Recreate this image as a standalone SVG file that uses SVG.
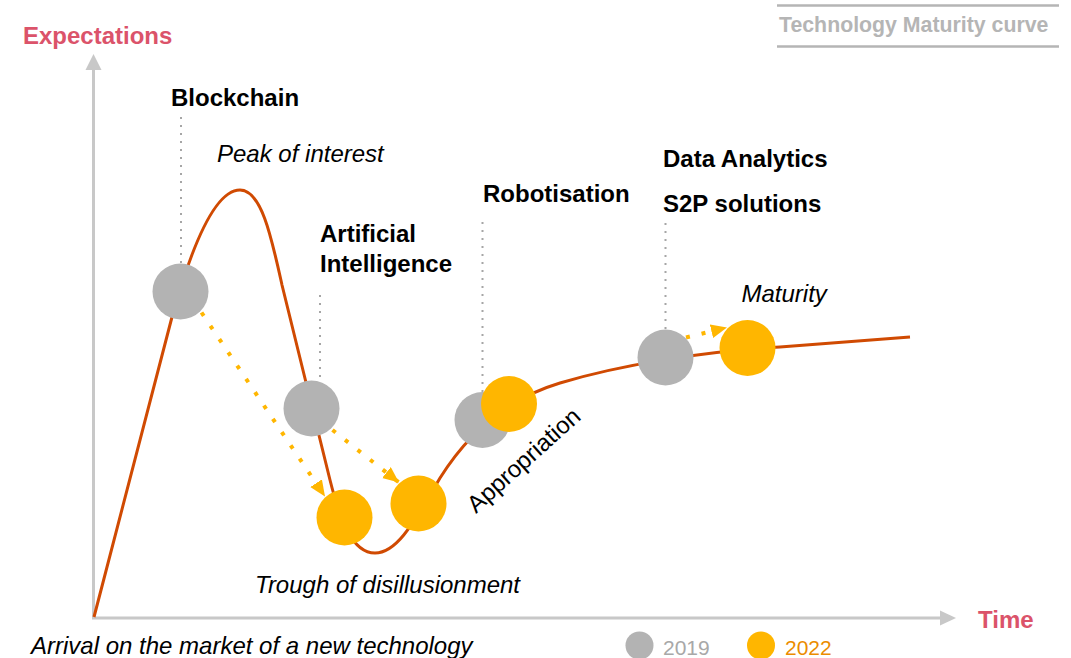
<svg xmlns="http://www.w3.org/2000/svg" width="1071" height="658" viewBox="0 0 1071 658">
<style>
text{font-family:"Liberation Sans",Arial,sans-serif}
.b{font-weight:bold;font-size:24px;fill:#000}
.it{font-style:italic;font-size:24px;fill:#000}
.pink{font-weight:bold;font-size:24px;fill:#db536a}
.axis{stroke:#c8c8c8;stroke-width:3;fill:none}
.lead{stroke:#a6a6a6;stroke-width:2;stroke-dasharray:2 6;fill:none}
.mv{stroke:#ffb600;stroke-width:4;stroke-dasharray:4 12;fill:none;marker-end:url(#ah)}
.g{fill:#b3b3b3}
.y{fill:#ffb600}
</style>
<defs>
<marker id="ah" markerUnits="userSpaceOnUse" markerWidth="17" markerHeight="15" refX="16" refY="7" orient="auto" viewBox="0 0 17 15">
<path d="M0,0 L16,7 L0,14 z" fill="#ffb600"/>
</marker>
</defs>
<rect width="1071" height="658" fill="#fff"/>
<g id="title">
<line x1="777" y1="5.5" x2="1059" y2="5.5" stroke="#b5b5b5" stroke-width="2.5"/>
<line x1="777" y1="46.5" x2="1059" y2="46.5" stroke="#b5b5b5" stroke-width="2.5"/>
<text x="779" y="32" style="font-weight:bold;font-size:21.3px;fill:#b5b5b5">Technology Maturity curve</text>
</g>
<g id="axes">
<line class="axis" x1="93.5" y1="618" x2="93.5" y2="68"/>
<path d="M85.5,70 L93.5,54 L101.5,70 z" fill="#c8c8c8"/>
<line class="axis" x1="92" y1="618" x2="942" y2="618"/>
<path d="M940,610.5 L956,618 L940,625.5 z" fill="#c8c8c8"/>
<text class="pink" x="23" y="44">Expectations</text>
<text class="pink" x="978" y="628">Time</text>
</g>
<g id="curve">
<path d="M94,617 L172,317 C192,245 215,190 240,190 C262,190 272,240 282,285 L330,480 C340,520 352,553 375,553 C395,553 410,530 440,478 C470,430 510,398 560,383 C620,365 700,352 780,347 L910,337" fill="none" stroke="#d04a02" stroke-width="3"/>
</g>
<g id="connectors">
<line class="lead" x1="181" y1="117" x2="181" y2="264"/>
<line class="lead" x1="320" y1="295" x2="320" y2="384"/>
<line class="lead" x1="482.5" y1="222" x2="482.5" y2="392"/>
<line class="lead" x1="665.5" y1="223" x2="665.5" y2="330"/>
<line class="mv" x1="201.5" y1="312.5" x2="325" y2="496.5"/>
<line class="mv" x1="332.5" y1="430" x2="399" y2="482.5"/>
<line class="mv" x1="686" y1="337.5" x2="727" y2="327.5"/>
</g>
<g id="blockchain">
<text class="b" x="171" y="106">Blockchain</text>
<circle class="g" cx="180.5" cy="291.5" r="28"/>
</g>
<g id="ai">
<text class="b" x="320" y="242">Artificial</text>
<text class="b" x="320" y="272">Intelligence</text>
<circle class="g" cx="311.5" cy="408.5" r="28"/>
</g>
<g id="robotisation">
<text class="b" x="483" y="201.5">Robotisation</text>
<circle class="g" cx="482.5" cy="420" r="28"/>
</g>
<g id="data">
<text class="b" x="663" y="167">Data Analytics</text>
<text class="b" x="663" y="211.5">S2P solutions</text>
<circle class="g" cx="665.5" cy="357.5" r="28"/>
</g>
<g id="y2022">
<circle class="y" cx="344.5" cy="517.5" r="28"/>
<circle class="y" cx="418.5" cy="503.5" r="28"/>
<circle class="y" cx="509" cy="404" r="28"/>
<circle class="y" cx="747.5" cy="348" r="28"/>
</g>
<g id="phases">
<text class="it" x="217" y="162">Peak of interest</text>
<text class="it" x="741.5" y="301.5">Maturity</text>
<text class="it" x="255" y="592.5">Trough of disillusionment</text>
<text class="it" x="31" y="654">Arrival on the market of a new technology</text>
<text x="476" y="514" transform="rotate(-42 476 514)" style="font-size:24px;fill:#000">Appropriation</text>
</g>
<g id="legend">
<circle class="g" cx="639.5" cy="645.5" r="14"/>
<text x="663" y="655" style="font-size:21px;fill:#a8a8a8">2019</text>
<circle class="y" cx="761" cy="645.5" r="14"/>
<text x="785" y="655" style="font-size:21px;fill:#eb8c00">2022</text>
</g>
</svg>
